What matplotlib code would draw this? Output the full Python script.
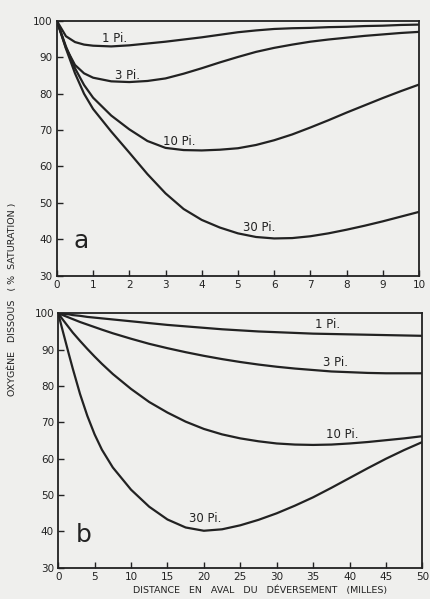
import numpy as np
import matplotlib
matplotlib.use("Agg")
import matplotlib.pyplot as plt

# panel a: distance 0-10 miles
xa = [0, 0.25, 0.5, 0.75, 1, 1.5, 2, 2.5, 3, 3.5, 4, 4.5, 5, 5.5, 6, 6.5, 7, 7.5, 8, 8.5, 9, 9.5, 10]
a_1 = [100, 95.8, 94.2, 93.5, 93.2, 93.0, 93.3, 93.8, 94.3, 94.9, 95.5, 96.2, 96.9, 97.4, 97.8,
       98.0, 98.1, 98.3, 98.4, 98.6, 98.7, 98.9, 99.0]
a_3 = [100, 92.6, 87.9, 85.6, 84.4, 83.4, 83.2, 83.5, 84.2, 85.5, 87.0, 88.6, 90.1, 91.5, 92.6,
       93.5, 94.3, 94.9, 95.4, 95.9, 96.3, 96.7, 97.0]
a_10 = [100, 93.0, 87.0, 82.4, 78.9, 74.0, 70.2, 67.0, 65.1, 64.5, 64.4, 64.6, 65.0, 65.9, 67.2,
        68.8, 70.7, 72.7, 74.8, 76.8, 78.8, 80.7, 82.5]
a_30 = [100, 92.4, 85.6, 80.0, 75.8, 69.6, 63.8, 57.9, 52.6, 48.3, 45.3, 43.2, 41.6, 40.6, 40.2,
        40.3, 40.8, 41.6, 42.6, 43.7, 44.9, 46.2, 47.5]

# panel b: distance 0-50 miles
xb = [0, 0.5, 1, 1.5, 2, 3, 4, 5, 6, 7.5, 10, 12.5, 15, 17.5, 20, 22.5, 25, 27.5, 30, 32.5,
      35, 37.5, 40, 42.5, 45, 47.5, 50]
b_1 = [100, 99.9, 99.8, 99.7, 99.5, 99.3, 99.0, 98.8, 98.6, 98.3, 97.8, 97.3, 96.8, 96.4, 96.0,
       95.6, 95.3, 95.0, 94.8, 94.6, 94.4, 94.3, 94.2, 94.1, 94.0, 93.9, 93.8]
b_3 = [100, 99.6, 99.2, 98.8, 98.4, 97.6, 96.9, 96.2, 95.5, 94.5, 93.0, 91.6, 90.4, 89.3, 88.3,
       87.4, 86.6, 85.9, 85.3, 84.8, 84.4, 84.0, 83.8, 83.6, 83.5, 83.5, 83.5]
b_10 = [100, 98.6, 97.3, 96.0, 94.7, 92.4, 90.2, 88.1, 86.1, 83.3, 79.2, 75.6, 72.7, 70.2, 68.2,
        66.7, 65.6, 64.8, 64.2, 63.9, 63.8, 63.9, 64.2, 64.6, 65.1, 65.6, 66.2]
b_30 = [100, 96.1, 92.3, 88.5, 84.8, 77.8, 71.8, 66.7, 62.5, 57.6, 51.5, 46.8, 43.3, 41.1, 40.2,
        40.6, 41.7, 43.2, 45.0, 47.1, 49.4, 52.0, 54.7, 57.4, 60.0, 62.4, 64.6]

labels = ["1 Pi.", "3 Pi.", "10 Pi.", "30 Pi."]
a_lab_pos = [(1.24, 95.3), (1.6, 84.9), (2.93, 66.8), (5.14, 43.1)]
b_lab_pos = [(35.3, 97.0), (36.3, 86.6), (36.7, 66.8), (17.9, 43.5)]

bg = "#efefed"
ink = "#222222"

fig = plt.figure(figsize=(4.31, 5.99), dpi=100, facecolor=bg)
ax_a = fig.add_axes([0.132, 0.540, 0.840, 0.425])
ax_b = fig.add_axes([0.135, 0.052, 0.845, 0.425])


def style(ax, xmax, step):
    ax.set_facecolor(bg)
    ax.set_xlim(0, xmax)
    ax.set_ylim(30, 100)
    ax.set_xticks(np.arange(0, xmax + step / 2, step))
    ax.set_yticks(np.arange(30, 101, 10))
    ax.tick_params(direction="in", length=4, width=1, colors=ink, labelsize=7.5, pad=3)
    for s in ax.spines.values():
        s.set_linewidth(1.3)
        s.set_color(ink)


for ax, x, series, pos in [
    (ax_a, xa, [a_1, a_3, a_10, a_30], a_lab_pos),
    (ax_b, xb, [b_1, b_3, b_10, b_30], b_lab_pos),
]:
    for y, lab, (tx, ty) in zip(series, labels, pos):
        ax.plot(x, y, color=ink, lw=1.6, solid_capstyle="round", solid_joinstyle="round")
        ax.text(tx, ty, lab, fontsize=8.5, color=ink, va="center")

style(ax_a, 10, 1)
style(ax_b, 50, 5)

ax_a.text(0.45, 39.5, "a", fontsize=18, color=ink, va="center")
ax_b.text(2.4, 39.0, "b", fontsize=18, color=ink, va="center")

fig.text(0.028, 0.5, "OXYGÈNE   DISSOUS   ( %  SATURATION )", rotation=90,
         ha="center", va="center", fontsize=6.8, color=ink)
fig.text(0.603, 0.006, "DISTANCE   EN   AVAL   DU   DÉVERSEMENT   (MILLES)",
         ha="center", va="bottom", fontsize=6.8, color=ink)

fig.savefig("out.png", dpi=100, facecolor=bg)
